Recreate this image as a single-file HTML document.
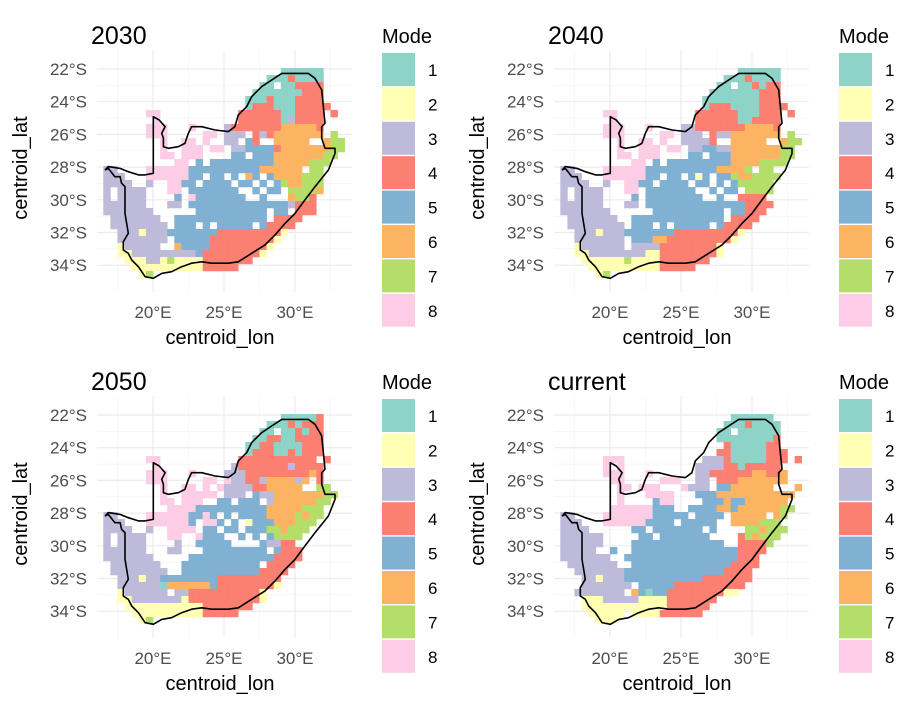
<!DOCTYPE html>
<html><head><meta charset="utf-8"><style>
html,body{margin:0;padding:0;background:#fff;}
svg{display:block;font-family:"Liberation Sans",Arial,sans-serif;}
</style></head><body>
<svg id="chart" width="917" height="717" viewBox="0 0 917 717"></svg>
<script>
const panelTitles = ["2030","2040","2050","current"];
const modeLabels = ["1","2","3","4","5","6","7","8"];
const modeColors = {T:"#8dd3c7",Y:"#ffffb3",P:"#bebada",R:"#fb8072",B:"#80b1d3",O:"#fdb462",G:"#b3de69",K:"#fccde5"};
const legendCodes = ["T","Y","P","R","B","O","G","K"];
const lonTicks = [20,25,30];
const lonTickLabels = ["20°E","25°E","30°E"];
const latTicks = [22,24,26,28,30,32,34];
const latTickLabels = ["22°S","24°S","26°S","28°S","30°S","32°S","34°S"];
const gridLon0 = 16.5, gridLonStep = 0.5, gridLat0 = 21.94, gridLatStep = 0.428;
const outlineLon = [16.62,16.85,17.32,17.68,17.79,18.03,18.03,18.26,17.91,17.91,18.26,18.5,18.97,19.44,20.02,20.61,21.31,22.02,22.72,23.43,24.13,25.3,26.01,26.95,27.89,28.59,29.3,30,30.7,31.41,32.35,32.82,32.82,32.11,31.88,31.88,32.11,31.88,31.41,30.94,29.06,28.36,27.65,26.95,26.6,26.01,25.77,25.3,24.37,23.43,22.72,22.49,22.25,21.78,21.08,20.73,20.73,20.61,20.85,20.44,20.02,20.02,19.44,18.97,18.26,17.68,16.85,16.62];
const outlineLat = [28.18,28.08,28.59,28.59,28.99,29.2,30.83,32.05,32.56,33.07,33.27,33.68,34.09,34.7,34.8,34.5,34.4,34.09,33.88,33.79,33.88,33.88,33.79,33.27,32.76,32.15,31.44,30.83,30.01,29.2,28.18,27.16,26.85,26.85,26.24,25.53,25.32,23.28,22.57,22.27,22.27,22.67,23.08,23.69,24.3,24.81,25.53,25.83,25.73,25.53,25.53,25.93,26.55,26.75,26.85,26.75,26.24,25.93,25.53,25.12,24.92,28.38,28.48,28.48,28.28,28.08,27.97,28.18];

const map2030 = [
".........................TTTTTT",
".......................TTTRTTTT",
"......................TT.TTRRRR",
".....................TTTTTTTRRR",
"....................TTTRTTTRRRR",
"....................TRRRTTTRRRRR",
"......KK...........RRRRRRTTRRRR.R",
".......K...........RRRRRRTPRRRR",
"......KKK...K....PRRRRRRROOOOOR",
"......KKK.....KK.PPP.RPROOOOOOO.G",
"........K..KK.K..PP.BR..OOOOO..OGG",
"........K..KKK.KK.PPBBBBROOOOOOOGG",
"........KK.KKK....BB.BBBOOOOOOOGG",
"..........KK.B.BBBBBBBBBOOOOOGGG",
"PP....KKKKKKBBBBBBBBBBOOOOOO.GG",
"PPP...KKKKKKBB.BB.B.OB.BOOOOGGG",
"PPPP..P..KKBB.BBBB.BB.B.BGOOGGG",
"P.PPPP...KK.BBBBBBB..B.BB.GGGGO",
"P.PPPP....B.KBBBBBBB..B...OGGR",
"PPPPPP...PP.BBBBBBBBBBBBBBPRRR",
"PPPPPPP......BBBBBBBBBB.BB.RRR",
".PPPPPPP..BBBBBBBBBBBBB.RRRR",
".PPPPPPPP.BBB.B.BBBBB.BRRRR",
"..PPPYPPPBBBBBBBRRRRRRRRRY",
"..PPPPPPP.BBBBBRRRRRRRRRY",
"..YPPPPP..OBBBBRRRRRRRRY",
"..YYPPPPPPPPPBRRRRRRRRY",
"...YYYPPYGYYYYRRRRRRR",
"....YYYYYYYYYYRRRRR",
".....YG"];
const map2040 = [
".........................TTTTTT",
".......................TTTRTTTT",
"......................TT.TTRTRR",
".....................TTTTTTTRRR",
"....................TTTTTTTTRRR",
"....................TRRRTTTTRRRR",
"......KK...........RRRRRRTTTRRR.R",
".......K...........RRRRRRTTRRRR",
"......KKK...K....PPRRRRRRROOOOR",
"......KKK.....KK.PPP.RPPOOOOOOO.G",
"........K..KK.K..PPPPR..OOOOO..OGG",
"........K..KKK.KK.PPBBPPOOOOOOOGG",
"........KK.KKK....BB.BBBOOOOOOOGG",
"..........KK.B.BBBBBBBBBOOOOGGGG",
"PP....KKKKKKBBBBBBBBBBOOOOG.GG",
"PPP...KKKKKKBB.BB.BYB.BBGOOGGGG",
"PPPP..P..KKBB.BBBB.BB.B.BGGGGG",
"P.PPPP...KK.BBBBBBB..B.BB.GGGG",
"P.PPPP....B.BBBBBBBB..B..RRRR",
"PPPPPP...PP.BBBBBBBBBBBBBBRRRR",
"PPPPPPP......BBBBBBBBBB.BBRRR",
".PPPPPPP..BBBBBBBBBBBBB.RRRR",
".PPPPPPPP.BBB.B.BBBBB.BRRRR",
"..PPPYPPPBBBBBBBRRRRRRRRRY",
"..PPPPPPP.BBBOORRRRRRRRRY",
"..YPPPPPP.PPPPRRRRRRRRY",
"..YYPPPPPPPPYYRRRRRRRRY",
"...YYYYYYGYYYYRRRRRRR",
"....YYYYYYYYYYRRRRR",
".....YG"];
const map2050 = [
".........................TTTTTR",
".......................TTTRTRRR",
"......................TT.TTRTRR",
".....................TTRRTTRRRR",
"....................TTRRTTTTRRR",
"....................TRRRTTRTRRR",
"......KK...........RRRRRRRRRRR.R",
".......K..........PRRRRRRRPRRRR",
"......KKK...K....PPPRRRRRRRRROR",
"......KKK.....KK.KPPRRPOOOOPO.R",
"........K..KK.K.KPPPPRROOOOO..GG",
"........K..KKKKK.PPP.BPPOOOOOOOGG",
"........KK.KKK..BB.BBB.POOOOOOGG",
".........KKKKBBBBBBBBBBOOOOOGGG",
"PP....KKKKKKBBKB.B.BBBBOOOOGOGG",
"PPP...KKKKKKB.KKB.B.YBBBOOOGGG",
"PPPP..P..KKKK.BB.BB.BBBGGOGGG",
"P.PPPP...KK..KBBB..B.B.BGGGG",
"P.PPPP....P..BBBBB....BPPRR",
"PPPPPP...PP...BBBBBBBBB.BRRR",
"PPPPPPP.....BBBBBBBBBBBBRRRR",
".PPPPPPP...BBBBBBBBBBB.RRRR",
".PPPPPPPP..BBBBBBBBBBBRRRR",
"..PPPYPPBBBBBBBBRRRRRRRRR",
"..PPPPPPTOOOOOOBRRRRRRRRY",
"..YPPPPPP.PPRRRRRRRRRRY",
"..YYPPPPPPPYRRRRRRRRRRY",
"...YYYYYYYYYYYRRRRRRR",
"....YYYYYYYYYYRRRRR",
".....YG"];
const mapCurrent = [
"........................TTTTTT",
".......................TTTRTTTT",
"......................TT.TTTTTT",
"......................TTTTTTTTR",
".......................RTTTTTRR",
"......................RRTTTTTRRR",
"......KKK...........PPPRTTTTTRRR.R",
"......K.K..........PPPPRRTRRRRR",
"......KKK...K......PPRRRRRROORRO",
".......KK.....KKK..PP.RRROOOOOOO",
"........KK.KKK...KPPP.BBOOOOOO...O",
"........K...KKKK...BBBOOOOOOOOOOO",
"........K....BKK....BBBOBBOOOOOO",
".......KKKKKKBBB..BBBBOOBOOOOOOGG",
"PP....KKKKKKKBBBBB.BBBB.OOOOO.OG",
"PPP...KKKKKKBBBB.BBBBB..OOOOGGG",
"PPPP......BB.BBBBBBB.B....GGOGGG",
"PPPPPP.....BB.BBBBBBB....RGOGGG",
"PPPPPP....BBBBBBBBBBBBB..RRRRG",
"PPPPP..B..BBBBBBBBBBBBBBBRRRR",
"PPPPPPP..BBBBBBBBBBBBBBBBRRR",
".PPPPPPP..BBBBBBBBBBBBBBRRRR",
"..PPPPPPPBBBBBBBBBBBBBBRRRR",
"...PPYPPPBBBBBBBBBBBRRRRRRR",
"...PPPPPPP.BBBBBRRRRRRRRRR",
"..PPPPPPP.OBTBBRRRRRRRRYY",
"...YYYPPPPPYYYYRRRRRRR",
"...YYYYYYYYYYYYRRRRRR",
"....YYYYY.YYYYRRRRRR",
".....YYY"];
const panelMaps = [map2030,map2040,map2050,mapCurrent];

const NS = "http://www.w3.org/2000/svg";
const svg = document.getElementById("chart");
const offX = [0,457,0,457], offY = [0,0,346,346];
function xs(lon){ return 153 + 14.2*(lon-20); }
function ys(lat){ return 69 + 16.35*(lat-22); }
function mk(tag, attrs, parent){ const e=document.createElementNS(NS,tag); for(const k in attrs) e.setAttribute(k,attrs[k]); (parent||svg).appendChild(e); return e; }

panelTitles.forEach((title,pi)=>{
  const g = mk("g",{transform:`translate(${offX[pi]},${offY[pi]})`});
  
  
  // gridlines
  const gl = mk("g",{},g);
  
  
  [17.5,22.5,27.5,32.5].forEach(v=>mk("line",{x1:xs(v),x2:xs(v),y1:50,y2:292,stroke:"#f2f2f2","stroke-width":0.6},gl));
  [23,25,27,29,31,33].forEach(v=>mk("line",{x1:97,x2:352,y1:ys(v),y2:ys(v),stroke:"#f2f2f2","stroke-width":0.6},gl));
  lonTicks.forEach(v=>mk("line",{x1:xs(v),x2:xs(v),y1:50,y2:292,stroke:"#ebebeb","stroke-width":1.2},gl));
  latTicks.forEach(v=>mk("line",{x1:97,x2:352,y1:ys(v),y2:ys(v),stroke:"#ebebeb","stroke-width":1.2},gl));
  // cells
  const cg = mk("g",{},g);
  
  
  panelMaps[pi].forEach((row,r)=>{
    for(let c=0;c<row.length;c++){
      const code=row[c]; if(!modeColors[code]) continue;
      const lon=gridLon0+gridLonStep*c, lat=gridLat0+gridLatStep*r;
      const x=xs(lon), y=ys(lat);
      const rect=mk("rect",{x:x,y:y,width:xs(lon+gridLonStep)-x+0.3,height:ys(lat+gridLatStep)-y+0.3,fill:modeColors[code]},cg);
      
      
    }
  });
  // outline
  const pts = outlineLon.map((lo,i)=>xs(lo).toFixed(1)+","+ys(outlineLat[i]).toFixed(1)).join(" ");
  const ol = mk("polyline",{points:pts,fill:"none",stroke:"#000","stroke-width":1.6,"stroke-linejoin":"round"},g);
  
  
  // title
  const t = mk("text",{x:91,y:44,"font-size":25,fill:"#000"},g); t.textContent=title;
  
  
  // ticks
  lonTicks.forEach((v,i)=>{ const e=mk("text",{x:xs(v),y:318,"font-size":17,fill:"#4d4d4d","text-anchor":"middle"},g); e.textContent=lonTickLabels[i];
    
     });
  latTicks.forEach((v,i)=>{ const e=mk("text",{x:87,y:ys(v)+6,"font-size":17,fill:"#4d4d4d","text-anchor":"end"},g); e.textContent=latTickLabels[i];
    
     });
  const xt = mk("text",{x:220,y:344,"font-size":20,fill:"#000","text-anchor":"middle"},g); xt.textContent="centroid_lon";
  
  
  const yt = mk("text",{x:0,y:0,"font-size":20,fill:"#000","text-anchor":"middle",transform:"translate(27,168) rotate(-90)"},g); yt.textContent="centroid_lat";
  
  
  // legend
  const lg = mk("g",{},g);
  
  
  const lt = mk("text",{x:382,y:43,"font-size":20,fill:"#000"},lg); lt.textContent="Mode";
  
  
  modeLabels.forEach((lab,i)=>{
    const kr = mk("rect",{x:382,y:53+34.4*i,width:33,height:33,fill:modeColors[legendCodes[i]]},lg);
    
    
    const kt = mk("text",{x:428,y:53+34.4*i+23,"font-size":17,fill:"#000"},lg); kt.textContent=lab;
    
    
  });
});
</script>
</body></html>
